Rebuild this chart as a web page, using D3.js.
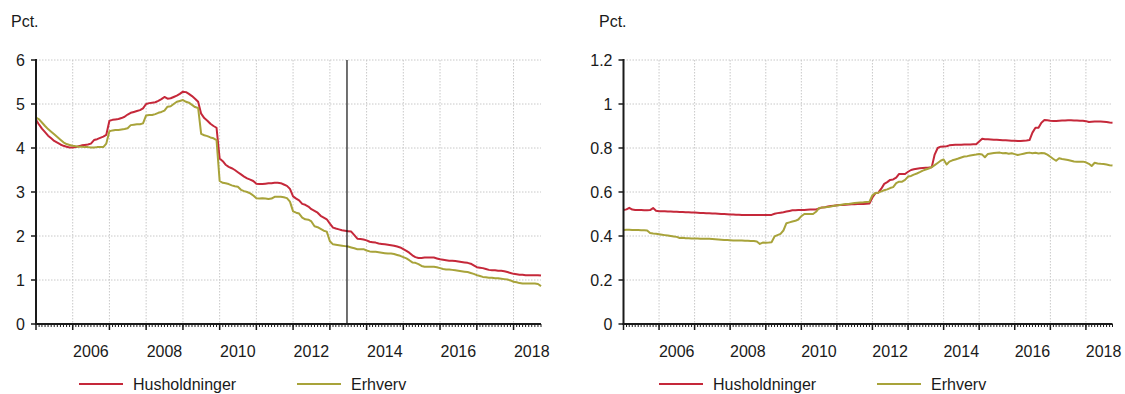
<!DOCTYPE html>
<html>
<head>
<meta charset="utf-8">
<script src="https://cdn.jsdelivr.net/npm/d3@7"></script>
<style>
  html, body { margin: 0; padding: 0; background: #ffffff; }
  svg { display: block; font-family: Arial, "Liberation Sans", sans-serif; }
</style>
</head>
<body>
<svg id="chart" width="1125" height="394"></svg>
<script>
// ---------- DATA ----------
const startMonth = "2005-01";          // first observation (monthly series)
const vlineDate = "2013-06-20";         // vertical marker in left panel

const leftHus = [
4.64,4.53,4.44,4.36,4.28,4.22,4.16,4.12,4.08,4.05,4.03,4.01,
4.01,4.02,4.04,4.06,4.07,4.08,4.10,4.18,4.20,4.23,4.26,4.30,
4.62,4.64,4.65,4.66,4.68,4.71,4.76,4.80,4.82,4.84,4.86,4.90,
5.00,5.02,5.03,5.04,5.07,5.11,5.16,5.12,5.13,5.16,5.19,5.23,
5.28,5.27,5.23,5.18,5.12,5.05,4.78,4.68,4.62,4.55,4.50,4.46,
3.76,3.70,3.62,3.57,3.54,3.50,3.45,3.40,3.35,3.31,3.28,3.25,
3.19,3.18,3.18,3.19,3.20,3.20,3.21,3.21,3.20,3.17,3.14,3.07,
2.90,2.85,2.81,2.73,2.71,2.67,2.61,2.57,2.53,2.46,2.42,2.38,
2.28,2.19,2.17,2.15,2.13,2.12,2.11,2.10,2.02,1.94,1.93,1.92,
1.90,1.87,1.86,1.85,1.83,1.82,1.81,1.80,1.79,1.78,1.76,1.74,
1.70,1.66,1.62,1.56,1.52,1.50,1.50,1.51,1.51,1.51,1.51,1.49,
1.47,1.46,1.45,1.44,1.44,1.43,1.42,1.41,1.40,1.39,1.37,1.33,
1.29,1.28,1.27,1.25,1.23,1.22,1.22,1.21,1.21,1.20,1.18,1.16,
1.14,1.13,1.12,1.12,1.11,1.11,1.11,1.11,1.11,1.10
];
const leftErh = [
4.69,4.65,4.58,4.50,4.43,4.37,4.31,4.25,4.19,4.13,4.09,4.07,
4.05,4.04,4.03,4.03,4.02,4.02,4.01,4.01,4.02,4.02,4.02,4.10,
4.38,4.40,4.41,4.41,4.42,4.43,4.45,4.52,4.53,4.54,4.54,4.56,
4.74,4.75,4.75,4.77,4.80,4.82,4.85,4.94,4.95,5.00,5.05,5.07,
5.09,5.05,5.03,4.98,4.93,4.91,4.32,4.29,4.27,4.24,4.22,4.18,
3.25,3.21,3.20,3.18,3.15,3.13,3.12,3.05,3.02,3.00,2.97,2.92,
2.86,2.85,2.86,2.85,2.84,2.85,2.89,2.89,2.89,2.88,2.86,2.78,
2.56,2.53,2.51,2.42,2.38,2.37,2.33,2.22,2.20,2.16,2.12,2.10,
1.88,1.81,1.80,1.79,1.78,1.77,1.76,1.74,1.72,1.70,1.70,1.70,
1.67,1.65,1.64,1.64,1.63,1.62,1.61,1.60,1.60,1.59,1.57,1.55,
1.52,1.49,1.45,1.40,1.39,1.36,1.32,1.30,1.30,1.30,1.30,1.29,
1.27,1.25,1.24,1.24,1.23,1.22,1.21,1.20,1.19,1.18,1.16,1.14,
1.11,1.09,1.07,1.06,1.05,1.05,1.04,1.04,1.03,1.02,1.01,0.99,
0.96,0.95,0.93,0.92,0.92,0.92,0.92,0.92,0.91,0.86
];
const rightHus = [
0.518,0.521,0.528,0.520,0.518,0.518,0.518,0.517,0.517,0.518,0.527,0.515,
0.513,0.512,0.512,0.511,0.511,0.510,0.510,0.509,0.509,0.508,0.508,0.507,
0.507,0.506,0.505,0.504,0.503,0.503,0.502,0.502,0.501,0.500,0.500,0.499,
0.498,0.498,0.497,0.497,0.496,0.496,0.495,0.495,0.495,0.495,0.495,0.495,
0.495,0.495,0.496,0.501,0.504,0.506,0.508,0.511,0.514,0.517,0.517,0.518,
0.518,0.518,0.519,0.520,0.520,0.521,0.525,0.530,0.531,0.534,0.536,0.538,
0.540,0.541,0.541,0.542,0.543,0.544,0.544,0.545,0.545,0.546,0.547,0.548,
0.575,0.595,0.597,0.615,0.637,0.645,0.655,0.657,0.665,0.682,0.682,0.682,
0.692,0.700,0.703,0.706,0.708,0.709,0.710,0.711,0.713,0.770,0.800,0.806,
0.807,0.808,0.812,0.814,0.815,0.815,0.815,0.816,0.816,0.816,0.817,0.817,
0.830,0.842,0.840,0.840,0.839,0.838,0.837,0.836,0.835,0.835,0.834,0.833,
0.833,0.832,0.832,0.833,0.834,0.836,0.870,0.892,0.892,0.915,0.927,0.926,
0.924,0.923,0.923,0.924,0.925,0.925,0.926,0.926,0.925,0.925,0.924,0.924,
0.922,0.918,0.919,0.920,0.920,0.920,0.919,0.918,0.916,0.915
];
const rightErh = [
0.427,0.428,0.428,0.427,0.427,0.427,0.426,0.426,0.425,0.414,0.411,0.410,
0.408,0.406,0.404,0.402,0.400,0.398,0.396,0.391,0.392,0.390,0.390,0.389,
0.389,0.389,0.388,0.388,0.388,0.387,0.386,0.385,0.384,0.383,0.382,0.382,
0.381,0.380,0.380,0.379,0.379,0.378,0.378,0.377,0.377,0.375,0.364,0.370,
0.369,0.370,0.372,0.398,0.404,0.410,0.425,0.458,0.462,0.466,0.469,0.475,
0.490,0.500,0.500,0.500,0.500,0.510,0.527,0.529,0.531,0.532,0.534,0.537,
0.539,0.541,0.543,0.545,0.546,0.548,0.550,0.551,0.552,0.553,0.555,0.556,
0.585,0.595,0.597,0.603,0.608,0.612,0.618,0.622,0.640,0.647,0.647,0.655,
0.670,0.673,0.679,0.684,0.690,0.697,0.702,0.707,0.713,0.722,0.732,0.742,
0.748,0.725,0.738,0.744,0.748,0.752,0.757,0.761,0.763,0.766,0.768,0.770,
0.773,0.770,0.758,0.773,0.775,0.777,0.778,0.779,0.776,0.777,0.774,0.776,
0.772,0.768,0.771,0.774,0.777,0.779,0.776,0.778,0.775,0.777,0.776,0.770,
0.760,0.750,0.742,0.753,0.750,0.748,0.745,0.742,0.739,0.738,0.738,0.738,
0.735,0.728,0.718,0.733,0.730,0.728,0.727,0.725,0.722,0.720
];

const leftYTicks = [0, 1, 2, 3, 4, 5, 6];
const leftYLabels = ["0", "1", "2", "3", "4", "5", "6"];
const rightYTicks = [0, 0.2, 0.4, 0.6, 0.8, 1.0, 1.2];
const rightYLabels = ["0", "0.2", "0.4", "0.6", "0.8", "1", "1.2"];
const xTickYears = [2006, 2008, 2010, 2012, 2014, 2016, 2018];
const xTickLabels = ["2006", "2008", "2010", "2012", "2014", "2016", "2018"];
const seriesNames = ["Husholdninger", "Erhverv"];
const unitLabel = "Pct.";

// ---------- STYLE ----------
const colors = ["#c5283a", "#a8a33a"];
const svg = d3.select("#chart");
const parseMonth = d3.timeParse("%Y-%m");
const start = parseMonth(startMonth);
const dates = leftHus.map((_, i) => d3.timeMonth.offset(start, i));

function panel(cfg) {
  const g = svg.append("g");
  const x = d3.scaleTime().domain([dates[0], dates[dates.length - 1]]).range([cfg.x0, cfg.x1]);
  const y = d3.scaleLinear().domain([cfg.yTicks[0], cfg.yTicks[cfg.yTicks.length - 1]]).range([cfg.y1, cfg.y0]);

  // unit label
  g.append("text").attr("x", cfg.unitX).attr("y", 27).attr("font-size", 16).attr("fill", "#1a1a1a").text(unitLabel);

  // grid horizontal
  g.selectAll(".hg").data(cfg.yTicks.slice(1)).join("line")
    .attr("x1", cfg.x0).attr("x2", cfg.x1)
    .attr("y1", d => y(d)).attr("y2", d => y(d))
    .attr("stroke", "#c8c8c8").attr("stroke-width", 1).attr("stroke-dasharray", "1.5,1.5");
  // grid vertical (each January)
  const years = d3.timeYear.range(d3.timeYear.ceil(dates[0]), dates[dates.length - 1]).filter(d => +d > +dates[0]);
  g.selectAll(".vg").data(years).join("line")
    .attr("x1", d => x(d)).attr("x2", d => x(d))
    .attr("y1", cfg.y0).attr("y2", cfg.y1)
    .attr("stroke", "#c8c8c8").attr("stroke-width", 1).attr("stroke-dasharray", "1.5,1.5");

  // lines
  const line = d3.line().x((d, i) => x(dates[i])).y(d => y(d));
  cfg.series.forEach((s, k) => {
    g.append("path").datum(s).attr("d", line)
      .attr("fill", "none").attr("stroke", colors[k]).attr("stroke-width", 2)
      .attr("stroke-linejoin", "round");
  });

  if (cfg.vline) {
    const vx = x(d3.timeParse("%Y-%m-%d")(cfg.vline));
    g.append("line").attr("x1", vx).attr("x2", vx).attr("y1", cfg.y0).attr("y2", cfg.y1)
      .attr("stroke", "#111").attr("stroke-width", 1.2);
  }

  // y axis
  g.append("line").attr("x1", cfg.x0).attr("x2", cfg.x0).attr("y1", cfg.y0 - 1).attr("y2", cfg.y1 + 1)
    .attr("stroke", "#1a1a1a").attr("stroke-width", 2);
  g.selectAll(".yt").data(cfg.yTicks).join("line")
    .attr("x1", cfg.x0 - 5).attr("x2", cfg.x0)
    .attr("y1", d => y(d)).attr("y2", d => y(d))
    .attr("stroke", "#1a1a1a").attr("stroke-width", 1.5);
  g.selectAll(".yl").data(cfg.yTicks).join("text")
    .attr("x", cfg.x0 - 11).attr("y", d => y(d)).attr("dy", "0.36em")
    .attr("text-anchor", "end").attr("font-size", 16).attr("fill", "#1a1a1a")
    .text((d, i) => cfg.yLabels[i]);

  // x axis
  g.append("line").attr("x1", cfg.x0 - 1).attr("x2", cfg.x1).attr("y1", cfg.y1).attr("y2", cfg.y1)
    .attr("stroke", "#1a1a1a").attr("stroke-width", 2);
  const months = dates.slice(1);
  g.selectAll(".mt").data(months).join("line")
    .attr("x1", d => x(d)).attr("x2", d => x(d))
    .attr("y1", cfg.y1).attr("y2", cfg.y1 + 3)
    .attr("stroke", "#1a1a1a").attr("stroke-width", 1);
  g.selectAll(".yt2").data([dates[0]].concat(years)).join("line")
    .attr("x1", d => x(d)).attr("x2", d => x(d))
    .attr("y1", cfg.y1).attr("y2", cfg.y1 + 6)
    .attr("stroke", "#1a1a1a").attr("stroke-width", 1.5);
  g.selectAll(".xl").data(xTickYears).join("text")
    .attr("x", d => x(new Date(d, 6, 1)))
    .attr("y", 357)
    .attr("text-anchor", "middle").attr("font-size", 16).attr("fill", "#1a1a1a")
    .text((d, i) => xTickLabels[i]);

  // legend
  seriesNames.forEach((name, k) => {
    const lx = cfg.legendX[k];
    g.append("line").attr("x1", lx).attr("x2", lx + 44).attr("y1", 384).attr("y2", 384)
      .attr("stroke", colors[k]).attr("stroke-width", 2);
    g.append("text").attr("x", lx + 54).attr("y", 390).attr("font-size", 16).attr("fill", "#1a1a1a").text(name);
  });
}

panel({
  x0: 36, x1: 541, y0: 60, y1: 324,
  yTicks: leftYTicks, yLabels: leftYLabels,
  series: [leftHus, leftErh], vline: vlineDate,
  unitX: 11, legendX: [79, 297]
});
panel({
  x0: 623.5, x1: 1112.5, y0: 60, y1: 324,
  yTicks: rightYTicks, yLabels: rightYLabels,
  series: [rightHus, rightErh], vline: null,
  unitX: 599, legendX: [659, 877]
});
</script>
</body>
</html>
